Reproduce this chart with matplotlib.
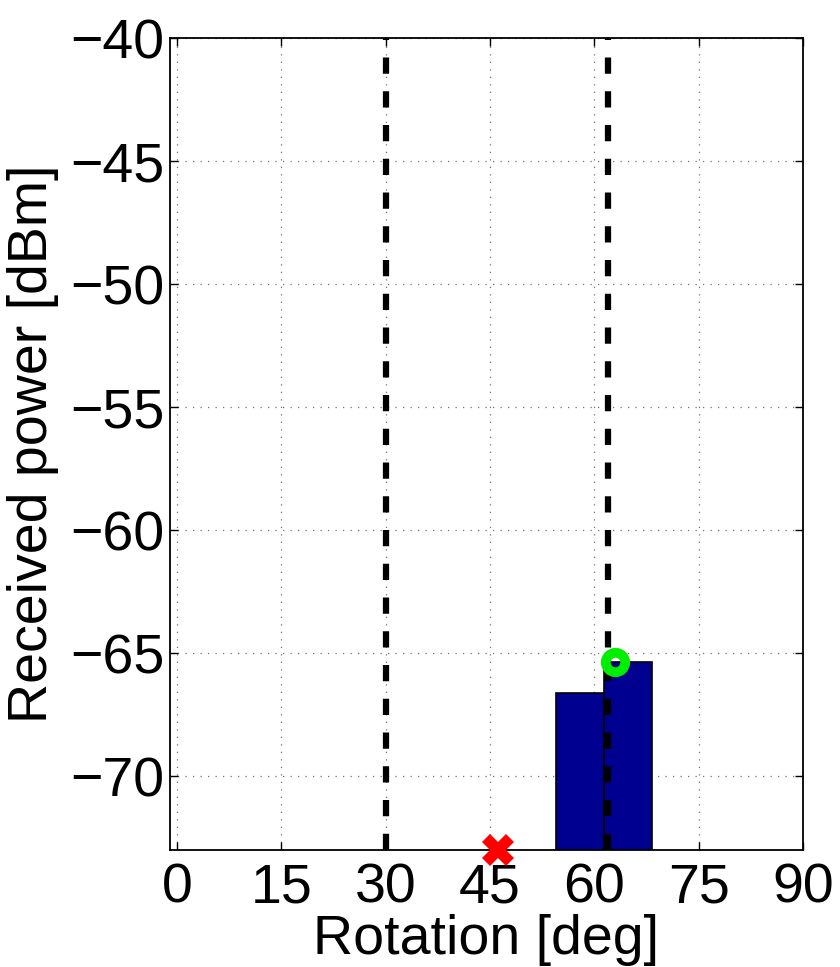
import matplotlib
matplotlib.use("Agg")
import matplotlib.pyplot as plt

# Data
bar_centers = [57.9, 64.8]
bar_heights = [-66.6, -65.35]
bar_width = 6.9
ref_lines = [30, 62]
est_x, est_y = 46.2, -73.0
best_x, best_y = 62.9, -65.35
xticks = [0, 15, 30, 45, 60, 75, 90]
yticks = [-70, -65, -60, -55, -50, -45, -40]

plt.rcParams['font.family'] = ['Liberation Sans', 'DejaVu Sans']
fig = plt.figure(figsize=(8.4, 9.67), dpi=100)
ax = fig.add_axes([0.2024, 0.121, 0.7536, 0.8397])

ymin = -73
ax.bar(bar_centers, [h - ymin for h in bar_heights], bottom=ymin, width=bar_width,
       color='#000090', edgecolor='black', linewidth=1.2, zorder=2)
for xv in ref_lines:
    ax.axvline(xv, color='black', linewidth=4.5, linestyle=(0, (2.6, 2.8)), zorder=3)
ax.plot([est_x], [est_y], marker='X', color='red', markersize=23, markeredgewidth=0,
        linestyle='none', zorder=5, clip_on=False)
ax.plot([best_x], [best_y], marker='o', markerfacecolor='none', markeredgecolor='#00ee00',
        markersize=14, markeredgewidth=7, linestyle='none', zorder=5, clip_on=False)

ax.set_xlim(-1, 90)
ax.set_ylim(ymin, -40)
ax.set_xticks(xticks)
ax.set_yticks(yticks)
ax.set_xticklabels([str(t) for t in xticks])
ax.set_yticklabels(['\u2212' + str(-t) for t in yticks])
ax.tick_params(direction='in', length=6, width=1, top=True, right=True, labelsize=40)
ax.tick_params(axis='x', pad=9)
ax.tick_params(axis='y', pad=4)
ax.grid(True, linestyle=(0, (1, 5)), color='0.45', linewidth=0.9)
ax.set_axisbelow(True)
for s in ax.spines.values():
    s.set_linewidth(1.3)
ax.set_xlabel('Rotation [deg]', fontsize=40, labelpad=0)
ax.set_ylabel('Received power [dBm]', fontsize=40, labelpad=8)

fig.savefig('out.png', dpi=100)
